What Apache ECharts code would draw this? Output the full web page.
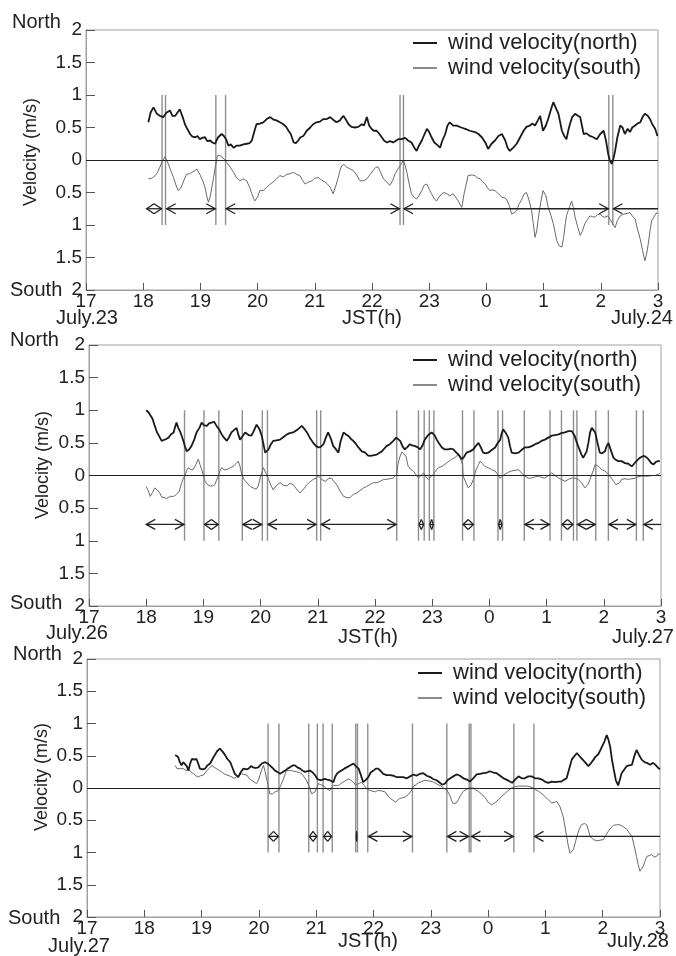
<!DOCTYPE html>
<html>
<head>
<meta charset="utf-8">
<script src="https://cdn.jsdelivr.net/npm/echarts@6/dist/echarts.min.js"></script>
<style>
  html, body { margin: 0; padding: 0; background: #fff; }
  #chart { width: 676px; height: 956px; }
</style>
</head>
<body>
<div id="chart"></div>
<script>
// hour-of-day tick labels, x axis runs 17 -> 27 (= 3 next day)
var hourLabels = ['17', '18', '19', '20', '21', '22', '23', '0', '1', '2', '3'];
var dateLabels = [['July.23', 'July.24'], ['July.26', 'July.27'], ['July.27', 'July.28']];

// [hour, velocity]  (positive = north, negative = south)
var p1North = [
  [18.09,0.58],[18.13,0.73],[18.18,0.81],[18.24,0.71],[18.29,0.68],[18.35,0.66],[18.41,0.73],[18.47,0.76],[18.51,0.68],[18.56,0.68],
  [18.60,0.73],[18.64,0.78],[18.69,0.66],[18.73,0.55],[18.77,0.48],[18.82,0.40],[18.86,0.36],[18.91,0.35],[18.95,0.37],[18.99,0.32],
  [19.03,0.34],[19.08,0.35],[19.12,0.29],[19.17,0.30],[19.21,0.27],[19.26,0.25],[19.28,0.30],[19.31,0.35],[19.37,0.40],[19.41,0.37],
  [19.45,0.32],[19.49,0.22],[19.53,0.24],[19.58,0.19],[19.63,0.22],[19.69,0.22],[19.75,0.24],[19.81,0.25],[19.86,0.26],[19.90,0.30],
  [19.94,0.43],[19.98,0.55],[20.04,0.56],[20.10,0.58],[20.16,0.63],[20.22,0.66],[20.28,0.62],[20.33,0.61],[20.39,0.58],[20.45,0.55],
  [20.50,0.51],[20.54,0.45],[20.58,0.40],[20.63,0.27],[20.67,0.26],[20.71,0.30],[20.75,0.35],[20.80,0.37],[20.86,0.45],[20.92,0.50],
  [20.97,0.55],[21.03,0.58],[21.09,0.59],[21.15,0.63],[21.21,0.63],[21.27,0.66],[21.32,0.62],[21.38,0.58],[21.44,0.61],[21.50,0.68],
  [21.55,0.61],[21.59,0.55],[21.64,0.51],[21.70,0.50],[21.76,0.51],[21.82,0.55],[21.86,0.53],[21.91,0.66],[21.95,0.53],[21.99,0.48],
  [22.03,0.45],[22.08,0.45],[22.13,0.40],[22.17,0.35],[22.21,0.30],[22.26,0.27],[22.31,0.29],[22.37,0.27],
  [22.40,0.30],[22.46,0.32],[22.52,0.32],[22.58,0.34],[22.63,0.30],[22.69,0.27],[22.74,0.19],[22.78,0.14],[22.82,0.22],[22.87,0.30],
  [22.92,0.40],[22.96,0.48],[23.00,0.43],[23.04,0.35],[23.09,0.27],[23.13,0.24],[23.19,0.19],[23.23,0.30],[23.28,0.40],[23.32,0.53],
  [23.36,0.58],[23.42,0.53],[23.48,0.53],[23.56,0.50],[23.63,0.48],[23.71,0.45],[23.80,0.43],[23.86,0.40],[23.92,0.35],[23.98,0.27],
  [24.03,0.17],[24.09,0.25],[24.15,0.30],[24.21,0.37],[24.27,0.40],[24.33,0.30],[24.37,0.19],[24.41,0.14],[24.47,0.19],[24.53,0.25],
  [24.59,0.35],[24.65,0.45],[24.70,0.51],[24.76,0.53],[24.80,0.56],[24.85,0.53],[24.90,0.61],[24.94,0.68],[24.99,0.45],[25.04,0.53],
  [25.08,0.63],[25.13,0.78],[25.17,0.89],[25.21,0.81],[25.26,0.71],[25.29,0.58],[25.32,0.45],[25.36,0.37],[25.40,0.32],[25.43,0.45],
  [25.46,0.55],[25.50,0.66],[25.55,0.71],[25.60,0.68],[25.64,0.66],[25.67,0.53],[25.70,0.40],[25.75,0.41],[25.81,0.37],[25.87,0.35],
  [25.93,0.32],[25.99,0.40],[26.05,0.45],[26.09,0.30],[26.13,0.09],[26.16,-0.01],[26.19,-0.06],[26.22,0.02],[26.25,0.14],[26.29,0.35],
  [26.34,0.53],[26.38,0.50],[26.42,0.40],[26.47,0.48],[26.51,0.43],[26.55,0.50],[26.60,0.53],[26.64,0.56],[26.69,0.58],[26.73,0.66],
  [26.77,0.71],[26.82,0.68],[26.86,0.63],[26.90,0.55],[26.95,0.48],[26.99,0.37]
];
var p1South = [
  [18.09,-0.29],[18.15,-0.28],[18.21,-0.24],[18.25,-0.19],[18.29,-0.11],[18.34,-0.01],[18.38,0.05],[18.41,0.02],[18.44,-0.06],[18.48,-0.16],
  [18.53,-0.27],[18.57,-0.38],[18.61,-0.47],[18.66,-0.43],[18.70,-0.34],[18.73,-0.27],[18.76,-0.22],[18.81,-0.21],[18.85,-0.19],[18.89,-0.17],
  [18.94,-0.14],[18.96,-0.17],[18.99,-0.22],[19.04,-0.32],[19.08,-0.42],[19.11,-0.55],[19.14,-0.65],[19.17,-0.57],[19.20,-0.42],[19.23,-0.27],
  [19.26,-0.11],[19.30,0.07],[19.34,0.07],[19.37,0.05],[19.41,0.02],[19.46,-0.04],[19.52,-0.11],[19.58,-0.19],[19.63,-0.27],[19.69,-0.32],
  [19.75,-0.29],[19.81,-0.32],[19.86,-0.42],[19.90,-0.52],[19.95,-0.63],[20.00,-0.57],[20.04,-0.47],[20.10,-0.47],[20.16,-0.42],[20.22,-0.37],
  [20.27,-0.34],[20.33,-0.29],[20.39,-0.24],[20.45,-0.26],[20.51,-0.22],[20.57,-0.21],[20.63,-0.19],[20.68,-0.22],[20.74,-0.24],[20.79,-0.32],
  [20.83,-0.37],[20.89,-0.34],[20.95,-0.32],[21.00,-0.28],[21.06,-0.27],[21.12,-0.31],[21.18,-0.34],[21.22,-0.37],[21.27,-0.42],[21.30,-0.48],
  [21.32,-0.52],[21.37,-0.39],[21.41,-0.27],[21.44,-0.16],[21.47,-0.09],[21.51,-0.07],[21.56,-0.11],[21.62,-0.14],[21.67,-0.16],[21.73,-0.23],
  [21.79,-0.32],[21.85,-0.32],[21.91,-0.29],[21.97,-0.22],[22.02,-0.16],[22.07,-0.11],[22.11,-0.11],[22.15,-0.19],[22.20,-0.29],[22.26,-0.34],
  [22.31,-0.39],[22.36,-0.32],[22.40,-0.22],[22.43,-0.17],[22.49,-0.09],[22.55,0.00],[22.58,-0.09],[22.61,-0.19],[22.65,-0.37],[22.69,-0.52],
  [22.74,-0.58],[22.78,-0.60],[22.82,-0.55],[22.87,-0.47],[22.91,-0.39],[22.96,-0.37],[23.00,-0.45],[23.04,-0.52],[23.09,-0.60],[23.13,-0.63],
  [23.17,-0.57],[23.22,-0.52],[23.26,-0.50],[23.31,-0.52],[23.36,-0.55],[23.42,-0.52],[23.46,-0.57],[23.51,-0.63],[23.54,-0.69],[23.57,-0.73],
  [23.61,-0.52],[23.66,-0.32],[23.68,-0.24],[23.71,-0.22],[23.75,-0.23],[23.80,-0.24],[23.85,-0.28],[23.89,-0.29],[23.93,-0.33],[23.98,-0.37],
  [24.02,-0.43],[24.06,-0.47],[24.10,-0.46],[24.15,-0.47],[24.21,-0.52],[24.27,-0.57],[24.31,-0.58],[24.35,-0.60],[24.40,-0.70],[24.44,-0.83],
  [24.49,-0.81],[24.53,-0.78],[24.57,-0.68],[24.62,-0.60],[24.66,-0.52],[24.70,-0.50],[24.74,-0.60],[24.79,-0.78],[24.82,-0.98],[24.85,-1.19],
  [24.88,-1.09],[24.91,-0.88],[24.95,-0.65],[24.99,-0.47],[25.04,-0.55],[25.08,-0.73],[25.13,-0.86],[25.17,-0.98],[25.20,-1.11],[25.23,-1.24],
  [25.27,-1.32],[25.32,-1.34],[25.35,-1.19],[25.38,-0.98],[25.40,-0.86],[25.43,-0.78],[25.49,-0.63],[25.52,-0.73],[25.55,-0.88],[25.60,-1.04],
  [25.64,-1.16],[25.68,-1.09],[25.72,-0.98],[25.77,-0.91],[25.81,-0.86],[25.85,-0.87],[25.90,-0.88],[25.94,-0.84],[25.99,-0.83],[26.03,-0.87],
  [26.07,-0.88],[26.12,-0.86],[26.16,-0.91],[26.20,-0.97],[26.25,-1.04],[26.29,-0.93],[26.34,-0.86],[26.38,-0.84],[26.42,-0.83],[26.47,-0.82],
  [26.51,-0.81],[26.55,-0.86],[26.60,-0.91],[26.64,-1.06],[26.69,-1.22],[26.73,-1.39],[26.77,-1.55],[26.80,-1.45],[26.83,-1.29],[26.86,-1.09],
  [26.89,-0.93],[26.94,-0.86],[26.98,-0.81],[27.00,-0.83]
];
var p2North = [
  [18.00,1.00],[18.04,0.97],[18.07,0.94],[18.11,0.87],[18.15,0.76],[18.19,0.66],[18.24,0.58],[18.27,0.53],[18.30,0.50],[18.35,0.56],
  [18.39,0.58],[18.43,0.63],[18.48,0.66],[18.50,0.73],[18.53,0.81],[18.56,0.73],[18.59,0.68],[18.62,0.61],[18.65,0.53],[18.68,0.44],
  [18.71,0.37],[18.75,0.40],[18.79,0.45],[18.84,0.55],[18.88,0.66],[18.93,0.73],[18.97,0.81],[19.01,0.77],[19.06,0.76],[19.10,0.80],
  [19.14,0.81],[19.19,0.82],[19.23,0.76],[19.28,0.70],[19.32,0.63],[19.36,0.58],[19.41,0.53],[19.45,0.59],[19.49,0.66],[19.54,0.70],
  [19.58,0.73],[19.61,0.63],[19.64,0.55],[19.69,0.61],[19.73,0.66],[19.79,0.62],[19.84,0.61],[19.88,0.68],[19.93,0.78],[19.98,0.71],
  [20.02,0.61],[20.05,0.48],[20.08,0.35],[20.11,0.36],[20.14,0.40],[20.18,0.48],[20.22,0.53],[20.28,0.54],[20.34,0.55],[20.40,0.59],
  [20.46,0.63],[20.51,0.65],[20.57,0.66],[20.64,0.70],[20.72,0.76],[20.76,0.72],[20.81,0.66],[20.86,0.58],[20.92,0.50],[20.97,0.45],
  [21.01,0.43],[21.05,0.44],[21.10,0.48],[21.14,0.58],[21.18,0.66],[21.23,0.56],[21.27,0.45],[21.32,0.40],[21.36,0.35],[21.40,0.53],
  [21.45,0.66],[21.49,0.63],[21.53,0.61],[21.58,0.56],[21.62,0.53],[21.67,0.48],[21.71,0.43],[21.77,0.37],[21.83,0.35],[21.87,0.31],
  [21.91,0.30],[21.97,0.31],[22.03,0.32],[22.08,0.35],[22.12,0.37],[22.16,0.41],[22.20,0.45],[22.26,0.48],[22.32,0.53],[22.37,0.58],
  [22.38,0.59],[22.44,0.53],[22.48,0.45],[22.52,0.40],[22.57,0.44],[22.61,0.48],[22.65,0.46],[22.70,0.45],[22.75,0.43],[22.79,0.40],
  [22.83,0.46],[22.87,0.55],[22.93,0.62],[22.99,0.66],[23.04,0.62],[23.08,0.55],[23.12,0.49],[23.17,0.43],[23.22,0.40],[23.28,0.40],
  [23.33,0.41],[23.37,0.40],[23.41,0.36],[23.46,0.32],[23.49,0.29],[23.52,0.25],[23.56,0.29],[23.60,0.35],[23.66,0.37],[23.72,0.40],
  [23.76,0.45],[23.81,0.50],[23.85,0.43],[23.89,0.35],[23.94,0.34],[23.98,0.35],[24.04,0.39],[24.10,0.43],[24.14,0.49],[24.19,0.55],
  [24.21,0.63],[24.24,0.71],[24.28,0.66],[24.33,0.58],[24.36,0.45],[24.39,0.35],[24.45,0.34],[24.51,0.35],[24.56,0.39],[24.62,0.43],
  [24.68,0.43],[24.74,0.45],[24.80,0.48],[24.86,0.50],[24.91,0.53],[24.97,0.55],[25.03,0.58],[25.09,0.61],[25.15,0.62],[25.21,0.63],
  [25.26,0.65],[25.32,0.66],[25.38,0.68],[25.44,0.68],[25.49,0.61],[25.53,0.50],[25.57,0.41],[25.61,0.32],[25.64,0.27],[25.67,0.25],
  [25.70,0.37],[25.73,0.50],[25.76,0.66],[25.79,0.73],[25.82,0.72],[25.85,0.66],[25.89,0.50],[25.93,0.35],[25.97,0.34],[26.02,0.37],
  [26.05,0.45],[26.08,0.50],[26.13,0.37],[26.17,0.27],[26.21,0.24],[26.25,0.22],[26.31,0.22],[26.37,0.19],[26.43,0.18],[26.49,0.14],
  [26.53,0.18],[26.57,0.22],[26.63,0.27],[26.69,0.30],[26.73,0.29],[26.78,0.25],[26.83,0.19],[26.87,0.17],[26.91,0.21],[26.95,0.22],
  [26.98,0.22]
];
var p2South = [
  [18.00,-0.17],[18.04,-0.24],[18.07,-0.32],[18.11,-0.26],[18.15,-0.19],[18.19,-0.22],[18.24,-0.27],[18.27,-0.33],[18.30,-0.34],[18.36,-0.35],
  [18.42,-0.32],[18.48,-0.32],[18.53,-0.29],[18.58,-0.24],[18.62,-0.11],[18.65,-0.04],[18.68,0.00],[18.71,0.08],[18.74,0.12],[18.78,0.09],
  [18.82,0.09],[18.87,0.17],[18.91,0.25],[18.94,0.17],[18.97,0.09],[19.00,0.00],[19.03,-0.09],[19.07,-0.14],[19.12,-0.16],[19.16,-0.16],
  [19.20,-0.14],[19.23,-0.07],[19.26,-0.01],[19.29,0.07],[19.32,0.12],[19.36,0.09],[19.41,0.09],[19.47,0.12],[19.52,0.14],[19.57,0.18],
  [19.61,0.22],[19.64,0.14],[19.67,0.02],[19.71,-0.06],[19.76,-0.11],[19.82,-0.17],[19.87,-0.19],[19.92,-0.21],[19.96,-0.16],[20.00,-0.01],
  [20.05,0.12],[20.09,0.04],[20.14,-0.06],[20.18,-0.15],[20.22,-0.22],[20.28,-0.15],[20.34,-0.11],[20.40,-0.15],[20.46,-0.16],[20.51,-0.12],
  [20.57,-0.14],[20.63,-0.21],[20.69,-0.27],[20.75,-0.21],[20.81,-0.14],[20.86,-0.10],[20.92,-0.06],[20.97,-0.04],[21.01,-0.01],[21.07,-0.06],
  [21.13,-0.09],[21.18,-0.05],[21.24,-0.04],[21.28,-0.09],[21.33,-0.14],[21.39,-0.24],[21.45,-0.32],[21.51,-0.34],[21.56,-0.34],[21.62,-0.29],
  [21.68,-0.27],[21.74,-0.23],[21.80,-0.19],[21.85,-0.17],[21.91,-0.14],[21.97,-0.11],[22.03,-0.11],[22.09,-0.09],[22.15,-0.06],[22.20,-0.06],
  [22.26,-0.05],[22.32,-0.04],[22.38,0.02],[22.40,0.17],[22.44,0.30],[22.47,0.36],[22.50,0.37],[22.54,0.30],[22.58,0.14],[22.63,0.09],
  [22.67,0.07],[22.71,0.02],[22.76,-0.04],[22.80,0.00],[22.85,0.04],[22.89,-0.02],[22.93,-0.06],[22.98,-0.02],[23.02,0.02],[23.06,0.07],
  [23.11,0.12],[23.17,0.14],[23.22,0.17],[23.28,0.21],[23.34,0.25],[23.39,0.27],[23.43,0.30],[23.47,0.31],[23.50,0.32],[23.53,0.17],
  [23.54,-0.01],[23.59,-0.11],[23.63,-0.19],[23.68,-0.14],[23.72,-0.06],[23.76,0.07],[23.81,0.17],[23.84,0.22],[23.88,0.18],[23.92,0.14],
  [23.98,0.12],[24.04,0.09],[24.10,0.07],[24.14,0.02],[24.19,-0.04],[24.23,-0.01],[24.27,0.02],[24.33,0.05],[24.39,0.07],[24.45,0.08],
  [24.51,0.09],[24.56,0.04],[24.62,-0.01],[24.68,-0.04],[24.74,-0.04],[24.80,-0.02],[24.86,-0.01],[24.91,-0.03],[24.97,-0.04],[25.03,0.00],
  [25.09,0.04],[25.15,0.00],[25.21,-0.04],[25.26,-0.06],[25.32,-0.09],[25.38,-0.06],[25.44,-0.04],[25.50,-0.04],[25.55,-0.06],[25.61,-0.11],
  [25.67,-0.19],[25.72,-0.14],[25.76,-0.06],[25.80,0.04],[25.85,0.17],[25.91,0.14],[25.96,0.09],[26.02,0.07],[26.08,0.02],[26.13,-0.04],
  [26.17,-0.09],[26.21,-0.14],[26.24,-0.16],[26.28,-0.11],[26.31,-0.06],[26.37,-0.05],[26.43,-0.06],[26.49,-0.05],[26.55,-0.04],[26.60,-0.02],
  [26.66,-0.01],[26.72,-0.01],[26.78,-0.01],[26.84,0.00],[26.90,0.00],[26.95,0.02],[26.98,0.03]
];
var p3North = [
  [18.54,0.51],[18.57,0.48],[18.59,0.48],[18.62,0.40],[18.65,0.35],[18.68,0.40],[18.71,0.40],[18.74,0.34],[18.77,0.27],[18.80,0.38],
  [18.83,0.45],[18.87,0.44],[18.91,0.45],[18.94,0.38],[18.97,0.30],[19.02,0.29],[19.06,0.30],[19.10,0.35],[19.15,0.38],[19.19,0.45],
  [19.23,0.51],[19.27,0.57],[19.32,0.61],[19.37,0.56],[19.41,0.51],[19.45,0.45],[19.50,0.40],[19.54,0.31],[19.58,0.22],[19.61,0.20],
  [19.64,0.17],[19.68,0.24],[19.73,0.30],[19.78,0.29],[19.82,0.30],[19.86,0.34],[19.90,0.32],[19.95,0.31],[19.99,0.32],[20.05,0.38],
  [20.11,0.40],[20.15,0.38],[20.19,0.35],[20.24,0.31],[20.28,0.27],[20.32,0.25],[20.37,0.22],[20.42,0.25],[20.46,0.27],[20.50,0.30],
  [20.54,0.32],[20.59,0.35],[20.63,0.35],[20.67,0.32],[20.72,0.30],[20.76,0.27],[20.80,0.25],[20.85,0.26],[20.89,0.27],[20.94,0.24],
  [20.98,0.20],[21.02,0.14],[21.07,0.12],[21.11,0.13],[21.15,0.14],[21.19,0.13],[21.24,0.12],[21.27,0.10],[21.30,0.09],[21.33,0.17],
  [21.36,0.22],[21.40,0.25],[21.44,0.27],[21.49,0.30],[21.53,0.32],[21.59,0.35],[21.65,0.38],[21.69,0.34],[21.74,0.30],[21.78,0.20],
  [21.82,0.09],[21.87,0.13],[21.91,0.17],[21.95,0.24],[22.00,0.27],[22.04,0.30],[22.08,0.30],[22.13,0.26],[22.17,0.22],[22.23,0.20],
  [22.29,0.20],[22.35,0.19],[22.40,0.17],[22.46,0.17],[22.52,0.17],[22.58,0.15],[22.64,0.18],[22.70,0.21],[22.75,0.19],[22.81,0.22],
  [22.87,0.23],[22.93,0.19],[22.99,0.17],[23.04,0.14],[23.10,0.12],[23.16,0.08],[23.20,0.05],[23.25,0.07],[23.29,0.12],[23.34,0.15],
  [23.39,0.18],[23.45,0.21],[23.51,0.19],[23.57,0.15],[23.63,0.13],[23.68,0.10],[23.74,0.15],[23.80,0.21],[23.86,0.22],[23.92,0.23],
  [23.98,0.24],[24.03,0.26],[24.09,0.24],[24.15,0.23],[24.21,0.19],[24.27,0.15],[24.32,0.13],[24.38,0.10],[24.42,0.08],[24.47,0.13],
  [24.53,0.18],[24.59,0.15],[24.64,0.15],[24.70,0.18],[24.76,0.18],[24.82,0.15],[24.88,0.15],[24.94,0.13],[24.99,0.10],[25.05,0.08],
  [25.11,0.10],[25.17,0.09],[25.23,0.10],[25.28,0.10],[25.33,0.13],[25.37,0.15],[25.41,0.28],[25.46,0.44],[25.51,0.50],[25.55,0.54],
  [25.59,0.50],[25.63,0.46],[25.69,0.40],[25.75,0.34],[25.80,0.39],[25.84,0.44],[25.88,0.49],[25.92,0.52],[25.95,0.57],[25.98,0.59],
  [26.03,0.72],[26.07,0.82],[26.10,0.75],[26.13,0.64],[26.16,0.45],[26.19,0.30],[26.23,0.12],[26.27,0.04],[26.30,0.13],[26.33,0.23],
  [26.38,0.29],[26.42,0.34],[26.46,0.35],[26.51,0.36],[26.55,0.49],[26.59,0.59],[26.63,0.52],[26.68,0.44],[26.73,0.40],[26.77,0.39],
  [26.83,0.36],[26.88,0.39],[26.93,0.35],[26.97,0.31],[27.00,0.29]
];
var p3South = [
  [18.54,0.35],[18.57,0.30],[18.59,0.27],[18.63,0.30],[18.68,0.30],[18.73,0.27],[18.77,0.30],[18.81,0.25],[18.86,0.22],[18.90,0.19],
  [18.94,0.17],[18.98,0.19],[19.03,0.20],[19.06,0.24],[19.09,0.27],[19.14,0.31],[19.18,0.35],[19.22,0.32],[19.26,0.30],[19.31,0.27],
  [19.35,0.25],[19.39,0.22],[19.44,0.20],[19.48,0.19],[19.53,0.17],[19.57,0.15],[19.61,0.17],[19.66,0.20],[19.70,0.22],[19.74,0.21],
  [19.79,0.20],[19.83,0.15],[19.87,0.12],[19.92,0.09],[19.96,0.07],[19.99,0.12],[20.02,0.20],[20.05,0.29],[20.08,0.35],[20.11,0.25],
  [20.14,0.12],[20.17,0.00],[20.19,-0.09],[20.24,-0.09],[20.28,-0.06],[20.31,-0.05],[20.34,-0.04],[20.38,0.04],[20.43,0.14],[20.46,0.22],
  [20.48,0.27],[20.53,0.27],[20.57,0.27],[20.61,0.26],[20.66,0.25],[20.71,0.24],[20.75,0.22],[20.79,0.17],[20.83,0.12],[20.88,0.02],
  [20.92,-0.09],[20.95,-0.09],[20.98,-0.06],[21.01,0.00],[21.04,0.07],[21.08,0.05],[21.12,0.04],[21.15,0.02],[21.18,-0.01],[21.21,-0.02],
  [21.24,-0.04],[21.27,0.00],[21.30,0.04],[21.35,0.04],[21.39,0.04],[21.43,0.07],[21.47,0.09],[21.52,0.12],[21.56,0.14],[21.60,0.12],
  [21.65,0.09],[21.68,0.05],[21.71,0.02],[21.75,0.07],[21.79,0.09],[21.84,0.04],[21.88,-0.01],[21.91,-0.03],[21.94,-0.04],[21.99,-0.05],
  [22.03,-0.06],[22.07,-0.04],[22.11,-0.04],[22.16,-0.05],[22.20,-0.06],[22.24,-0.11],[22.29,-0.16],[22.34,-0.19],[22.38,-0.22],[22.42,-0.19],
  [22.46,-0.16],[22.51,-0.15],[22.55,-0.14],[22.58,-0.13],[22.61,-0.10],[22.64,-0.08],[22.67,-0.03],[22.70,0.03],[22.74,0.05],[22.78,0.08],
  [22.84,0.10],[22.90,0.12],[22.96,0.11],[23.02,0.10],[23.07,0.08],[23.13,0.05],[23.18,0.03],[23.22,0.00],[23.25,-0.02],[23.28,-0.03],
  [23.31,-0.08],[23.34,-0.13],[23.36,-0.19],[23.39,-0.24],[23.42,-0.27],[23.45,-0.23],[23.48,-0.18],[23.53,-0.10],[23.57,-0.05],[23.61,-0.03],
  [23.66,0.00],[23.70,0.00],[23.74,0.00],[23.78,-0.03],[23.83,-0.05],[23.89,-0.10],[23.95,-0.15],[24.00,-0.22],[24.06,-0.26],[24.12,-0.23],
  [24.18,-0.18],[24.24,-0.13],[24.30,-0.08],[24.35,-0.04],[24.41,0.00],[24.47,0.02],[24.53,0.03],[24.59,0.03],[24.67,0.03],[24.73,0.02],
  [24.79,0.00],[24.83,-0.03],[24.88,-0.05],[24.94,-0.09],[24.99,-0.13],[25.05,-0.18],[25.11,-0.23],[25.16,-0.22],[25.20,-0.21],[25.23,-0.24],
  [25.25,-0.28],[25.28,-0.36],[25.31,-0.44],[25.34,-0.59],[25.37,-0.75],[25.40,-0.90],[25.43,-1.01],[25.46,-1.02],[25.49,-0.95],[25.52,-0.85],
  [25.55,-0.75],[25.59,-0.64],[25.63,-0.57],[25.68,-0.55],[25.72,-0.57],[25.75,-0.65],[25.78,-0.75],[25.84,-0.80],[25.90,-0.82],[25.95,-0.81],
  [26.01,-0.80],[26.05,-0.74],[26.10,-0.67],[26.14,-0.62],[26.19,-0.58],[26.24,-0.57],[26.30,-0.57],[26.36,-0.60],[26.42,-0.64],[26.46,-0.69],
  [26.51,-0.75],[26.55,-0.90],[26.59,-1.06],[26.62,-1.19],[26.65,-1.29],[26.68,-1.25],[26.71,-1.21],[26.74,-1.13],[26.77,-1.06],[26.81,-1.05],
  [26.85,-1.03],[26.90,-1.07],[26.94,-1.06],[26.97,-1.02],[27.00,-1.03]
];

// vertical boundary lines (hour) drawn from +1 to -1
var p1Bounds = [18.33, 18.39, 19.27, 19.44, 22.49, 22.55, 26.14, 26.21];
var p2Bounds = [18.67, 19.01, 19.27, 19.68, 20.03, 20.12, 20.98, 21.05, 22.38, 22.76, 22.86, 22.95, 23.03,
  23.53, 23.73, 24.15, 24.23, 24.61, 25.06, 25.26, 25.47, 25.53, 25.86, 26.08, 26.57, 26.69];
var p3Bounds = [20.16, 20.35, 20.87, 21.02, 21.12, 21.28, 21.69, 21.72, 21.90, 22.68, 23.28, 23.67, 23.70, 24.45, 24.80];
var boundTop = 1, boundBottom = -1;

// arrows: [from, to, heads]  heads 2 = both ends, 1 = left end only
var p1Arrows = [[18.06, 18.32, 2], [18.41, 19.26, 2], [19.45, 22.48, 2], [22.56, 26.13, 2], [26.22, 27, 1]];
var p2Arrows = [[18.0, 18.66, 2], [19.02, 19.26, 2], [19.69, 20.02, 2], [20.13, 20.97, 2], [21.06, 22.37, 2],
  [22.77, 22.85, 2], [22.96, 23.02, 2], [23.54, 23.72, 2], [24.16, 24.22, 2], [24.62, 25.05, 2],
  [25.27, 25.46, 2], [25.54, 25.85, 2], [26.09, 26.56, 2], [26.7, 27, 1]];
var p3Arrows = [[20.17, 20.34, 2], [20.88, 21.01, 2], [21.13, 21.27, 2], [21.70, 21.71, 2], [21.91, 22.67, 2],
  [23.29, 23.66, 2], [23.71, 24.44, 2], [24.81, 27, 1]];
var arrowLevel = -0.75;

var panels = [
  { north: p1North, south: p1South, bounds: p1Bounds, arrows: p1Arrows },
  { north: p2North, south: p2South, bounds: p2Bounds, arrows: p2Arrows },
  { north: p3North, south: p3South, bounds: p3Bounds, arrows: p3Arrows }
];

// layout (pixels)
var grids = [
  { left: 86, top: 30, width: 572, height: 260 },
  { left: 89, top: 345, width: 572, height: 261 },
  { left: 87, top: 659, width: 573, height: 258 }
];
var textPos = [
  { north: [12, 22], south: [10, 290], vel: [31, 152], jl: [87, 318], jst: [372, 318], jr: [642, 318], legend: [413, 32] },
  { north: [10, 340], south: [10, 603], vel: [43, 465], jl: [77, 633], jst: [368, 637], jr: [643, 637], legend: [413, 349] },
  { north: [13, 654], south: [8, 918], vel: [42, 777], jl: [79, 946], jst: [368, 941], jr: [638, 941], legend: [418, 662] }
];

var FONT = '"Liberation Sans", Arial, Helvetica, sans-serif';
var NORTH_NAME = 'wind velocity(north)';
var SOUTH_NAME = 'wind velocity(south)';
var NORTH_COLOR = '#1a1a1a';
var SOUTH_COLOR = '#6a6a6a';

function renderBound(params, api) {
  var p = api.coord([api.value(0), api.value(1)]);
  var q = api.coord([api.value(0), api.value(2)]);
  return {
    type: 'line',
    shape: { x1: p[0], y1: p[1], x2: q[0], y2: q[1] },
    style: { stroke: '#8e8e8e', lineWidth: 1.4 }
  };
}

function renderArrow(params, api) {
  var a = api.coord([api.value(0), api.value(2)]);
  var b = api.coord([api.value(1), api.value(2)]);
  var heads = api.value(3);
  var h = 5;
  var len = heads === 2 ? Math.min(9, (b[0] - a[0]) / 2) : 9;
  var st = { stroke: '#222', lineWidth: 1.3, fill: null };
  var kids = [
    { type: 'line', shape: { x1: a[0], y1: a[1], x2: b[0], y2: b[1] }, style: st },
    { type: 'polyline', shape: { points: [[a[0] + len, a[1] - h], [a[0], a[1]], [a[0] + len, a[1] + h]] }, style: st }
  ];
  if (heads === 2) {
    kids.push({ type: 'polyline', shape: { points: [[b[0] - len, b[1] - h], [b[0], b[1]], [b[0] - len, b[1] + h]] }, style: st });
  }
  return { type: 'group', children: kids };
}

var option = {
  animation: false,
  backgroundColor: '#fff',
  grid: [],
  xAxis: [],
  yAxis: [],
  legend: [],
  series: [],
  graphic: []
};

panels.forEach(function (pn, i) {
  var g = grids[i];
  option.grid.push({
    left: g.left, top: g.top, width: g.width, height: g.height,
    show: true, borderColor: '#a0a0a0', borderWidth: 1, backgroundColor: 'transparent',
    outerBoundsMode: 'none', containLabel: false
  });
  option.xAxis.push({
    type: 'value', gridIndex: i, min: 17, max: 27, interval: 1,
    axisLine: { show: true, onZero: false, lineStyle: { color: '#a0a0a0', width: 1 } },
    axisTick: { show: true, inside: true, length: 7, lineStyle: { color: '#555', width: 1 } },
    axisLabel: {
      show: true, margin: 2, fontSize: 19, color: '#222', fontFamily: FONT,
      formatter: function (v) { return hourLabels[Math.round(v - 17)]; }
    },
    splitLine: { show: false }
  });
  option.yAxis.push({
    type: 'value', gridIndex: i, min: -2, max: 2, interval: 0.5,
    axisLine: { show: true, onZero: false, lineStyle: { color: '#a0a0a0', width: 1 } },
    axisTick: { show: true, inside: true, length: 9, lineStyle: { color: '#555', width: 1 } },
    axisLabel: {
      show: true, margin: 4, fontSize: 19, color: '#222', fontFamily: FONT,
      formatter: function (v) { return String(Math.abs(v)); }
    },
    splitLine: { show: false }
  });
  var tp = textPos[i];
  option.legend.push({
    left: tp.legend[0], top: tp.legend[1], orient: 'vertical', padding: 0,
    itemWidth: 24, itemHeight: 2, itemGap: 3,
    textStyle: { fontSize: 22, color: '#222', fontFamily: FONT, padding: [0, 0, 0, 6] },
    data: [
      { name: NORTH_NAME, icon: 'rect', itemStyle: { color: NORTH_COLOR, borderWidth: 0 } },
      { name: SOUTH_NAME, icon: 'rect', itemStyle: { color: '#8a8a8a', borderWidth: 0 } }
    ],
    selectedMode: false
  });
  option.series.push({
    type: 'custom', name: 'bounds' + i, xAxisIndex: i, yAxisIndex: i, silent: true, z: 1,
    renderItem: renderBound,
    encode: { x: 0, y: [1, 2] },
    data: pn.bounds.map(function (t) { return [t, boundTop, boundBottom]; })
  });
  option.series.push({
    type: 'line', name: SOUTH_NAME, xAxisIndex: i, yAxisIndex: i, z: 2,
    symbol: 'none', showSymbol: false,
    lineStyle: { color: SOUTH_COLOR, width: 1 }, itemStyle: { color: SOUTH_COLOR },
    data: pn.south
  });
  option.series.push({
    type: 'line', name: NORTH_NAME, xAxisIndex: i, yAxisIndex: i, z: 3,
    symbol: 'none', showSymbol: false,
    lineStyle: { color: NORTH_COLOR, width: 1.8 }, itemStyle: { color: NORTH_COLOR },
    data: pn.north,
    markLine: {
      silent: true, symbol: 'none', animation: false,
      label: { show: false },
      lineStyle: { color: '#222', width: 1.2, type: 'solid' },
      emphasis: { disabled: true },
      data: [{ yAxis: 0 }]
    }
  });
  option.series.push({
    type: 'custom', name: 'arrows' + i, xAxisIndex: i, yAxisIndex: i, silent: true, z: 4,
    renderItem: renderArrow,
    encode: { x: [0, 1], y: 2 },
    data: pn.arrows.map(function (a) { return [a[0], a[1], arrowLevel, a[2]]; })
  });

  var ts = function (txt, pos, size, align, extra) {
    var el = {
      type: 'text', x: pos[0], y: pos[1], silent: true,
      style: {
        text: txt, fontSize: size, fontFamily: FONT, fill: '#222',
        textAlign: align, textVerticalAlign: 'middle', align: align, verticalAlign: 'middle'
      }
    };
    if (extra) { for (var k in extra) el[k] = extra[k]; }
    return el;
  };
  option.graphic.push(ts('North', tp.north, 20, 'left'));
  option.graphic.push(ts('South', tp.south, 20, 'left'));
  option.graphic.push(ts('Velocity (m/s)', tp.vel, 18, 'center', { rotation: Math.PI / 2 }));
  option.graphic.push(ts(dateLabels[i][0], tp.jl, 20, 'center'));
  option.graphic.push(ts('JST(h)', tp.jst, 20, 'center'));
  option.graphic.push(ts(dateLabels[i][1], tp.jr, 20, 'center'));
});

var chart = echarts.init(document.getElementById('chart'), null, { renderer: 'canvas' });
chart.setOption(option);
</script>
</body>
</html>
